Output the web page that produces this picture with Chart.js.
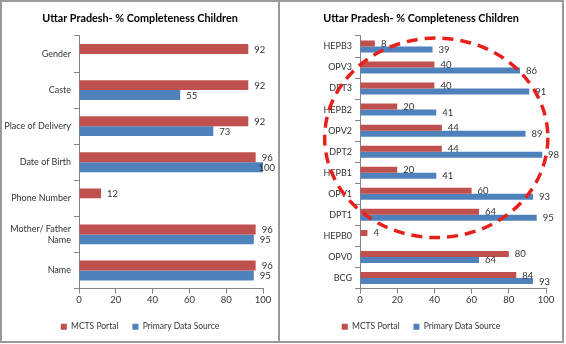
<!DOCTYPE html>
<html>
<head>
<meta charset="utf-8">
<script src="https://cdn.jsdelivr.net/npm/chart.js@4.4.1/dist/chart.umd.min.js"></script>
<style>
  html, body { margin: 0; padding: 0; background: #fff; }
  #frame { position: absolute; left: 0; top: 0; width: 560px; height: 339px; border: 2px solid #9a9a9a; }
  #divider { position: absolute; left: 276px; top: 0; width: 2px; height: 339px; background: #9a9a9a; }
  #left-wrap { position: absolute; left: 0; top: 0; width: 276px; height: 339px; }
  #right-wrap { position: absolute; left: 278px; top: 0; width: 282px; height: 339px; }
</style>
</head>
<body>
<div id="frame">
  <div id="left-wrap"><canvas id="chart-left" width="276" height="339"></canvas></div>
  <div id="divider"></div>
  <div id="right-wrap"><canvas id="chart-right" width="282" height="339"></canvas></div>
</div>
<script>
var title = 'Uttar Pradesh- % Completeness Children';
var series_names = ['MCTS Portal', 'Primary Data Source'];
var colors = ['#c0504d', '#4f81bd'];
var x_ticks = [0, 20, 40, 60, 80, 100];

// left panel: completeness of identity fields
var left_labels = ['Gender', 'Caste', 'Place of Delivery', 'Date of Birth', 'Phone Number', ['Mother/ Father', 'Name'], 'Name'];
var left_mcts = [92, 92, 92, 96, 12, 96, 96];
var left_primary = [null, 55, 73, 100, null, 95, 95];

// right panel: completeness of immunisation fields
var right_labels = ['HEPB3', 'OPV3', 'DPT3', 'HEPB2', 'OPV2', 'DPT2', 'HEPB1', 'OPV1', 'DPT1', 'HEPB0', 'OPV0', 'BCG'];
var right_mcts = [8, 40, 40, 20, 44, 44, 20, 60, 64, 4, 80, 84];
var right_primary = [39, 86, 91, 41, 89, 98, 41, 93, 95, null, 64, 93];

var FONT = 'Lato, "Liberation Sans", sans-serif';

// write the value at the end of every bar (kept inside the canvas)
var valueLabels = {
    id: 'valueLabels',
    afterDatasetsDraw: function(chart) {
        var ctx = chart.ctx;
        ctx.save();
        ctx.font = '9.5px ' + FONT;
        ctx.fillStyle = '#333333';
        ctx.textBaseline = 'middle';
        ctx.textAlign = 'left';
        chart.data.datasets.forEach(function(ds, i) {
            var meta = chart.getDatasetMeta(i);
            meta.data.forEach(function(bar, j) {
                if (ds.data[j] == null) return;
                var txt = '' + ds.data[j];
                var tx = Math.min(bar.x + 6, chart.width - 3 - ctx.measureText(txt).width);
                ctx.fillText(txt, tx, bar.y + 0.5);
            });
        });
        ctx.restore();
    }
};

// dashed red ring drawn over the right panel
var ring = {
    id: 'ring',
    afterDraw: function(chart, args, opts) {
        if (!opts.show) return;
        var x = chart.scales.x, y = chart.scales.y;
        var cx = x.getPixelForValue(41);
        var rx = x.getPixelForValue(41 + 60) - cx;
        var band = y.getPixelForValue(1) - y.getPixelForValue(0);
        var cy = y.getPixelForValue(4.34);
        var ry = band * 4.74;
        var ctx = chart.ctx;
        ctx.save();
        ctx.strokeStyle = '#e8201c';
        ctx.lineWidth = 3.5;
        ctx.setLineDash([11, 7]);
        ctx.beginPath();
        ctx.ellipse(cx, cy, rx, ry, 0, 0, Math.PI * 2);
        ctx.stroke();
        ctx.restore();
    }
};

function make_chart(id, labels, mcts, primary, yWidth, padRight, catPct, showRing) {
    var ctx = document.getElementById(id).getContext('2d');
    return new Chart(ctx, {
        type: 'bar',
        data: {
            labels: labels,
            datasets: [
                { label: series_names[0], data: mcts, backgroundColor: colors[0], barPercentage: 1, categoryPercentage: catPct },
                { label: series_names[1], data: primary, backgroundColor: colors[1], barPercentage: 1, categoryPercentage: catPct }
            ]
        },
        options: {
            indexAxis: 'y',
            responsive: false,
            animation: false,
            layout: { padding: 0 },
            scales: {
                x: {
                    min: 0, max: 100,
                    afterBuildTicks: function(scale) { scale.ticks = x_ticks.map(function(v) { return { value: v }; }); },
                    afterFit: function(scale) { scale.height = 20; },
                    grid: { drawOnChartArea: false, color: '#868686', tickLength: 5 },
                    border: { color: '#868686' },
                    ticks: { padding: 1, color: '#333333', font: { family: FONT, size: 9.5 }, maxRotation: 0 }
                },
                y: {
                    afterFit: function(scale) { scale.width = yWidth; },
                    grid: { drawOnChartArea: false, offset: true, color: '#868686', tickLength: 5 },
                    border: { color: '#868686' },
                    ticks: { padding: 3, color: '#333333', font: { family: FONT, size: 9 } }
                },
                // empty box on the right so the title and legend stay centred on the panel
                spacer: {
                    type: 'linear', position: 'right', display: true,
                    grid: { display: false }, border: { display: false }, ticks: { display: false },
                    afterFit: function(scale) { scale.width = padRight; }
                }
            },
            plugins: {
                title: { display: true, text: title, color: '#000000', font: { family: FONT, size: 10.8, weight: 'bold' }, padding: { top: 10, bottom: 11 } },
                legend: {
                    position: 'bottom',
                    labels: { boxWidth: 6, boxHeight: 6, padding: 14, color: '#333333', font: { family: FONT, size: 8.5 } }
                },
                tooltip: { enabled: false },
                ring: { show: showRing }
            }
        },
        plugins: [valueLabels, ring]
    });
}

make_chart('chart-left', left_labels, left_mcts, left_primary, 77, 15, 0.55, false);
make_chart('chart-right', right_labels, right_mcts, right_primary, 80, 16, 0.57, true);
</script>
</body>
</html>
